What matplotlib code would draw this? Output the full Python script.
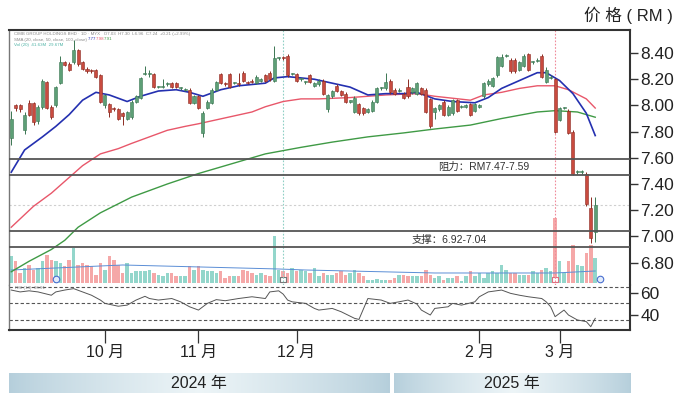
import numpy as np
import matplotlib.pyplot as plt
from matplotlib.patches import Rectangle
from matplotlib.ticker import FormatStrFormatter

plt.rcParams['font.family'] = ['Liberation Sans', 'Noto Sans CJK SC', 'DejaVu Sans']

# daily candles (trading-day index 0..131)
opens = [7.75, 8.00, 8.00, 7.81, 8.02, 8.02, 7.88, 7.99, 8.18, 7.99,
         8.00, 8.17, 8.33, 8.32, 8.33, 8.42, 8.33, 8.28, 8.27, 8.27,
         8.23, 8.00, 8.01, 7.98, 7.97, 7.94, 7.90, 7.91, 8.03, 8.06,
         8.24, 8.24, 8.24, 8.14, 8.14, 8.16, 8.17, 8.17, 8.13, 8.12,
         8.12, 8.02, 8.07, 7.79, 7.98, 8.02, 8.12, 8.24, 8.17, 8.24,
         8.17, 8.17, 8.25, 8.18, 8.19, 8.17, 8.19, 8.23, 8.25, 8.19,
         8.36, 8.37, 8.38, 8.24, 8.24, 8.20, 8.18, 8.23, 8.15, 8.16,
         8.19, 7.97, 8.07, 8.15, 8.11, 8.09, 8.03, 7.95, 8.01, 7.98,
         7.95, 7.96, 8.03, 8.13, 8.13, 8.19, 8.12, 8.11, 8.09, 8.14,
         8.10, 8.09, 8.13, 8.12, 8.05, 7.95, 7.97, 8.03, 7.93, 7.94,
         8.04, 7.99, 7.99, 8.01, 7.96, 7.99, 8.07, 8.16, 8.15, 8.23,
         8.30, 8.38, 8.35, 8.35, 8.27, 8.30, 8.39, 8.33, 8.34, 8.38,
         8.18, 8.21, 8.20, 7.89, 7.98, 7.96, 7.80, 7.49, 7.49, 7.48,
         7.22, 7.03]
closes = [7.90, 7.98, 7.97, 7.93, 7.93, 7.87, 7.99, 8.19, 7.98, 7.91,
          8.14, 8.33, 8.31, 8.27, 8.42, 8.32, 8.28, 8.26, 8.26, 8.22,
          8.03, 8.08, 7.95, 7.97, 7.90, 7.92, 7.95, 8.03, 8.07, 8.21,
          8.25, 8.25, 8.14, 8.14, 8.15, 8.17, 8.14, 8.14, 8.13, 8.12,
          8.02, 8.07, 7.98, 7.94, 8.03, 8.12, 8.18, 8.17, 8.16, 8.14,
          8.17, 8.16, 8.19, 8.17, 8.18, 8.22, 8.20, 8.19, 8.20, 8.36,
          8.36, 8.36, 8.23, 8.24, 8.19, 8.20, 8.18, 8.18, 8.17, 8.19,
          8.09, 8.08, 8.11, 8.11, 8.08, 8.03, 8.03, 8.06, 7.94, 7.94,
          7.97, 8.03, 8.13, 8.13, 8.18, 8.10, 8.09, 8.12, 8.06, 8.07,
          8.13, 8.17, 8.09, 7.95, 7.84, 7.98, 8.00, 7.93, 7.99, 8.04,
          7.96, 7.99, 8.00, 7.93, 8.01, 8.00, 8.17, 8.19, 8.21, 8.37,
          8.37, 8.38, 8.26, 8.26, 8.33, 8.38, 8.27, 8.33, 8.35, 8.22,
          8.27, 8.22, 7.80, 7.98, 7.98, 7.79, 7.48, 7.50, 7.50, 7.25,
          6.99, 7.24]
highs = [7.96, 8.01, 8.01, 7.95, 8.04, 8.03, 8.00, 8.20, 8.19, 8.00,
         8.15, 8.38, 8.34, 8.33, 8.50, 8.43, 8.34, 8.29, 8.28, 8.28,
         8.24, 8.09, 8.02, 7.99, 7.98, 7.95, 7.96, 8.04, 8.08, 8.22,
         8.30, 8.27, 8.25, 8.15, 8.20, 8.18, 8.18, 8.18, 8.14, 8.13,
         8.13, 8.08, 8.08, 7.96, 8.04, 8.13, 8.19, 8.25, 8.18, 8.25,
         8.18, 8.25, 8.26, 8.19, 8.20, 8.23, 8.21, 8.24, 8.26, 8.45,
         8.37, 8.38, 8.39, 8.25, 8.25, 8.21, 8.19, 8.24, 8.18, 8.20,
         8.20, 8.09, 8.12, 8.16, 8.12, 8.10, 8.04, 8.07, 8.02, 7.99,
         7.98, 8.04, 8.14, 8.14, 8.25, 8.20, 8.13, 8.13, 8.10, 8.20,
         8.14, 8.18, 8.14, 8.13, 8.06, 7.99, 8.01, 8.04, 8.00, 8.05,
         8.05, 8.00, 8.01, 8.02, 8.02, 8.01, 8.18, 8.20, 8.22, 8.38,
         8.39, 8.39, 8.36, 8.36, 8.34, 8.39, 8.40, 8.34, 8.36, 8.39,
         8.29, 8.23, 8.21, 7.99, 7.99, 7.97, 7.81, 7.51, 7.51, 7.49,
         7.30, 7.30]
lows = [7.70, 7.96, 7.95, 7.78, 7.92, 7.85, 7.86, 7.97, 7.97, 7.90,
        7.99, 8.16, 8.30, 8.26, 8.32, 8.30, 8.27, 8.25, 8.25, 8.21,
        8.02, 7.98, 7.91, 7.96, 7.89, 7.85, 7.89, 7.90, 8.02, 8.05,
        8.23, 8.22, 8.13, 8.13, 8.13, 8.15, 8.13, 8.13, 8.12, 8.11,
        8.01, 8.01, 7.97, 7.76, 7.97, 8.01, 8.11, 8.16, 8.15, 8.13,
        8.16, 8.15, 8.18, 8.16, 8.17, 8.16, 8.18, 8.18, 8.19, 8.18,
        8.35, 8.35, 8.22, 8.23, 8.18, 8.19, 8.16, 8.17, 8.14, 8.15,
        8.08, 7.95, 8.06, 8.10, 8.07, 8.02, 8.02, 7.94, 7.93, 7.93,
        7.94, 7.95, 8.02, 8.12, 8.12, 8.09, 8.08, 8.10, 8.05, 8.06,
        8.09, 8.08, 8.08, 7.94, 7.83, 7.90, 7.96, 7.92, 7.92, 7.93,
        7.95, 7.98, 7.98, 7.92, 7.95, 7.98, 8.06, 8.15, 8.14, 8.22,
        8.29, 8.37, 8.25, 8.25, 8.26, 8.29, 8.26, 8.32, 8.33, 8.21,
        8.17, 8.20, 7.79, 7.88, 7.97, 7.78, 7.47, 7.48, 7.48, 7.23,
        6.95, 6.96]

# volume (million shares)
volumes = [2.7, 2.2, 1.0, 1.5, 1.8, 1.3, 1.5, 2.2, 2.8, 2.3,
           2.2, 2.0, 1.7, 2.3, 3.5, 1.8, 2.0, 1.8, 1.7, 0.8,
           2.0, 1.3, 2.7, 2.3, 1.8, 1.0, 2.0, 1.0, 1.2, 1.2,
           1.2, 1.3, 1.0, 0.8, 0.7, 1.0, 1.0, 0.7, 0.7, 0.7,
           1.7, 1.3, 1.7, 1.3, 1.2, 1.2, 1.0, 1.2, 0.5, 0.7,
           0.7, 0.7, 1.3, 1.2, 1.0, 0.8, 1.0, 0.8, 0.7, 4.7,
           1.3, 1.2, 1.0, 1.5, 1.2, 1.3, 1.2, 1.0, 1.5, 0.7,
           1.0, 0.8, 0.8, 1.0, 1.2, 0.8, 1.0, 1.3, 1.0, 0.7,
           0.3, 0.3, 0.4, 0.3, 0.3, 0.3, 0.5, 0.8, 0.8, 0.7,
           0.7, 0.7, 0.7, 1.3, 0.8, 0.5, 0.7, 0.3, 0.5, 0.5,
           0.7, 0.2, 0.7, 1.2, 0.7, 1.0, 0.5, 1.0, 1.2, 1.0,
           1.8, 1.3, 1.0, 1.0, 0.8, 0.8, 0.8, 1.2, 1.0, 1.3,
           1.5, 1.2, 6.5, 2.2, 1.0, 2.2, 3.8, 1.8, 1.7, 3.0,
           3.8, 2.5]
vol_ma_idx = [0, 25, 60, 66, 95, 122, 131]
vol_ma_val = [1.3, 1.8, 1.4, 1.3, 1.0, 1.0, 1.2]

# moving averages, read at sample days
sma20_idx = [0, 3, 7, 10, 13, 16, 19, 22, 26, 29, 33, 37, 40, 43, 47, 51, 57, 59, 62, 65,
             68, 72, 76, 80, 84, 88, 91, 95, 99, 104, 107, 110, 114, 118, 120, 123, 126, 129, 131]
sma20_val = [7.49, 7.66, 7.76, 7.84, 7.93, 8.04, 8.10, 8.08, 8.03, 8.07, 8.11, 8.12, 8.10, 8.07,
             8.12, 8.15, 8.17, 8.21, 8.22, 8.21, 8.20, 8.17, 8.14, 8.08, 8.09, 8.09, 8.10, 8.05,
             8.03, 8.02, 8.06, 8.13, 8.19, 8.25, 8.25, 8.19, 8.09, 7.94, 7.77]
sma50_idx = [0, 5, 9, 12, 16, 20, 24, 27, 31, 35, 39, 42, 46, 50, 54, 57, 61, 65, 69, 76,
             84, 91, 95, 103, 106, 110, 114, 118, 122, 125, 129, 131]
sma50_val = [7.07, 7.23, 7.33, 7.42, 7.54, 7.63, 7.67, 7.71, 7.76, 7.81, 7.84, 7.86, 7.89, 7.92,
             7.95, 7.99, 8.03, 8.05, 8.05, 8.06, 8.08, 8.09, 8.07, 8.04, 8.08, 8.10, 8.13, 8.15,
             8.15, 8.12, 8.05, 7.98]
sma100_idx = [0, 4, 9, 12, 15, 20, 27, 35, 42, 50, 57, 65, 72, 80, 88, 95, 103, 110, 118, 122, 127, 131]
sma100_val = [6.73, 6.81, 6.90, 6.97, 7.07, 7.18, 7.30, 7.40, 7.48, 7.56, 7.63, 7.68, 7.72, 7.76,
              7.79, 7.82, 7.85, 7.90, 7.95, 7.96, 7.95, 7.91]

# RSI(14), read at sample days
rsi_idx = [0, 2, 4, 6, 9, 10, 12, 14, 16, 18, 20, 21, 24, 26, 28, 30, 31, 33, 36, 38,
           40, 42, 44, 46, 48, 51, 54, 57, 58, 60, 61, 62, 63, 66, 68, 69, 72, 74, 77, 78,
           80, 83, 85, 87, 89, 91, 92, 94, 95, 98, 99, 101, 104, 105, 107, 110, 112, 114, 116, 119,
           120, 121, 122, 124, 125, 127, 129, 130, 131]
rsi_val = [62.7, 61, 62, 61, 58, 61, 62.7, 64, 61, 58, 53.6, 50.6, 48, 49, 53.6, 57, 55, 53.6, 55, 52,
           47.5, 44.5, 50.6, 54, 53, 55, 56.6, 55, 61, 62, 59, 53.6, 52, 50.6, 46, 44.5, 46, 43, 37, 36,
           55, 53.6, 50.6, 52, 53.6, 50, 44.5, 40, 46, 47.5, 50.6, 49, 52, 56.6, 61, 62.7, 59.7, 58, 56.6, 55,
           52, 47.5, 38.5, 44.5, 40, 35.5, 34, 29.4, 37]
rsi_levels = [65.5, 51, 35.5]

resistance = [7.47, 7.59]
support = [6.92, 7.04]
last_price = 7.24
event_days = [61, 122]
event_colors = ['#8fcfc4', '#f08a9a']

price_ticks = [6.8, 7.0, 7.2, 7.4, 7.6, 7.8, 8.0, 8.2, 8.4]
month_idx = [21, 42, 64, 105, 123]
month_labels = ['10 月', '11 月', '12 月', '2 月', '3 月']
years = ['2024 年', '2025 年']
year_spans = [(-0.5, 85.1), (86.0, 139.2)]

UP_FACE, UP_EDGE = '#5d9f76', '#3b7652'
DN_FACE, DN_EDGE = '#c94b3f', '#8c2b22'
FRAME = '#333333'
XLIM = (-0.5, 138.8)


def main():
    fig = plt.figure(figsize=(6.9, 4.01), dpi=100)
    left, width = 9 / 690, 621 / 690

    # volume sits underneath the price panel
    vax = fig.add_axes([left, 0.2893, width, 0.6359])
    ax = fig.add_axes([left, 0.2893, width, 0.6359])
    ax.patch.set_visible(False)

    n = len(closes)
    days = np.arange(n)
    up = [closes[i] >= opens[i] for i in range(n)]

    vcols = ['#93d6cb' if u else '#f5a8a8' for u in up]
    vax.bar(days, volumes, width=0.78, color=vcols, zorder=2)
    vax.plot(vol_ma_idx, vol_ma_val, color='#5b8ed6', lw=0.7, zorder=3)
    vax.scatter([10, 132], [0.35, 0.35], s=22, marker='o', facecolor='#e3ecfa',
                edgecolor='#4a6fd0', lw=0.8, zorder=4, clip_on=False)
    vax.scatter(event_days, [0.35, 0.35], s=16, marker='s', facecolor='white',
                edgecolor=['#777777', '#e07080'], lw=0.8, zorder=4, clip_on=False)
    vax.set_xlim(*XLIM)
    vax.set_ylim(-0.2, 25.3)
    vax.axis('off')

    # moving averages
    ax.plot(sma100_idx, sma100_val, color='#3f9a45', lw=1.0, zorder=2)
    ax.plot(sma50_idx, sma50_val, color='#e8576a', lw=1.0, zorder=2)
    ax.plot(sma20_idx, sma20_val, color='#2430b0', lw=1.2, zorder=2)

    # candles
    for i in range(n):
        face, edge = (UP_FACE, UP_EDGE) if up[i] else (DN_FACE, DN_EDGE)
        ax.vlines(i, lows[i], highs[i], color=edge, lw=0.7, zorder=3)
        body = max(abs(closes[i] - opens[i]), 0.008)
        ax.add_patch(Rectangle((i - 0.34, min(opens[i], closes[i])), 0.68, body,
                               facecolor=face, edgecolor=edge, lw=0.4, zorder=4))

    # event markers and levels
    for d, c in zip(event_days, event_colors):
        ax.axvline(d, color=c, lw=0.8, ls=(0, (1.5, 1.5)), zorder=1)
    ax.axhline(last_price, color='#cfcfcf', lw=0.8, ls=(0, (2, 2)), zorder=1)
    for lv in resistance + support:
        ax.axhline(lv, color='#555555', lw=1.3, zorder=5)
    ax.text(95.7, 7.53, '阻力：RM7.47-7.59', fontsize=7.5, color='#333333', va='center')
    ax.text(89.9, 6.975, '支撑：6.92-7.04', fontsize=7.5, color='#333333', va='center')

    ax.set_xlim(*XLIM)
    ax.set_ylim(6.629, 8.576)
    ax.yaxis.tick_right()
    ax.set_yticks(price_ticks)
    ax.yaxis.set_major_formatter(FormatStrFormatter('%.2f'))
    ax.tick_params(axis='y', length=6, width=1.0, color=FRAME, pad=1.5,
                   labelsize=12.5, labelcolor='#222222')
    ax.tick_params(axis='x', bottom=False, labelbottom=False)
    ax.spines['bottom'].set_visible(False)
    for s in ['top', 'right']:
        ax.spines[s].set_color(FRAME)
        ax.spines[s].set_linewidth(1.5)
    ax.spines['left'].set_color('#777777')
    ax.spines['left'].set_linewidth(1.0)

    # tiny indicator legend in the corner
    fig.text(14 / 690, 1 - 34 / 401,
             'CIMB GROUP HOLDINGS BHD · 1D · MYX   O7.03  H7.30  L6.96  C7.24  +0.21 (+2.99%)',
             fontsize=3.2, color='#888888', va='center')
    fig.text(14 / 690, 1 - 39.5 / 401, 'SMA (20, close, 50, close, 100, close)',
             fontsize=3.2, color='#888888', va='center')
    for xp, txt, c in zip([88, 96, 104], ['7.77', '7.98', '7.91'],
                          ['#2430b0', '#e8576a', '#3f9a45']):
        fig.text(xp / 690, 1 - 39.5 / 401, txt, fontsize=3.2, color=c, va='center')
    fig.text(14 / 690, 1 - 45 / 401, 'Vol (20)  41.63M  29.67M',
             fontsize=3.2, color='#4fb3a6', va='center')

    # RSI panel
    rax = fig.add_axes([left, 0.1771, width, 0.1122])
    rax.plot(rsi_idx, rsi_val, color='#555555', lw=0.7)
    for lv in rsi_levels:
        rax.axhline(lv, color='#555555', lw=0.8, ls=(0, (3, 2)))
    rax.text(0.8, 64.6, 'RSI (14)  36.91', fontsize=3.2, color='#888888', va='center')
    rax.set_xlim(*XLIM)
    rax.set_ylim(26.4, 67.3)
    rax.yaxis.tick_right()
    rax.set_yticks([40, 60])
    rax.tick_params(axis='y', length=6, width=1.0, color=FRAME, pad=1.5,
                    labelsize=12.5, labelcolor='#222222')
    rax.set_xticks(month_idx)
    rax.set_xticklabels(month_labels)
    rax.tick_params(axis='x', length=9, width=0.9, color=FRAME, pad=2,
                    labelsize=11.5, labelcolor='#222222')
    rax.spines['top'].set_visible(False)
    for s in ['bottom', 'right']:
        rax.spines[s].set_color(FRAME)
        rax.spines[s].set_linewidth(1.5)
    rax.spines['left'].set_color('#777777')
    rax.spines['left'].set_linewidth(1.0)

    # year band with soft blue gradient
    yax = fig.add_axes([left, 0.02, width, 0.0499])
    t = np.linspace(0, 1, 256)
    w = (1 - np.abs(2 * t - 1)) ** 0.8
    edge_c = np.array([0.71, 0.81, 0.86])
    mid_c = np.array([0.93, 0.96, 0.97])
    grad = (edge_c[None, :] * (1 - w[:, None]) + mid_c[None, :] * w[:, None])[None, :, :]
    for (x0, x1), lab in zip(year_spans, years):
        yax.imshow(grad, extent=[x0, x1, 0, 1], aspect='auto', interpolation='bilinear')
        yax.text((x0 + x1) / 2, 0.48, lab, ha='center', va='center',
                 fontsize=11.5, color='#222222')
    yax.set_xlim(XLIM[0], 139.2)
    yax.set_ylim(0, 1)
    yax.axis('off')

    fig.text(673 / 690, 1 - 15 / 401, '价 格 ( RM )', ha='right', va='center',
             fontsize=12, color='#222222')

    fig.savefig('out.png', dpi=100)


main()
